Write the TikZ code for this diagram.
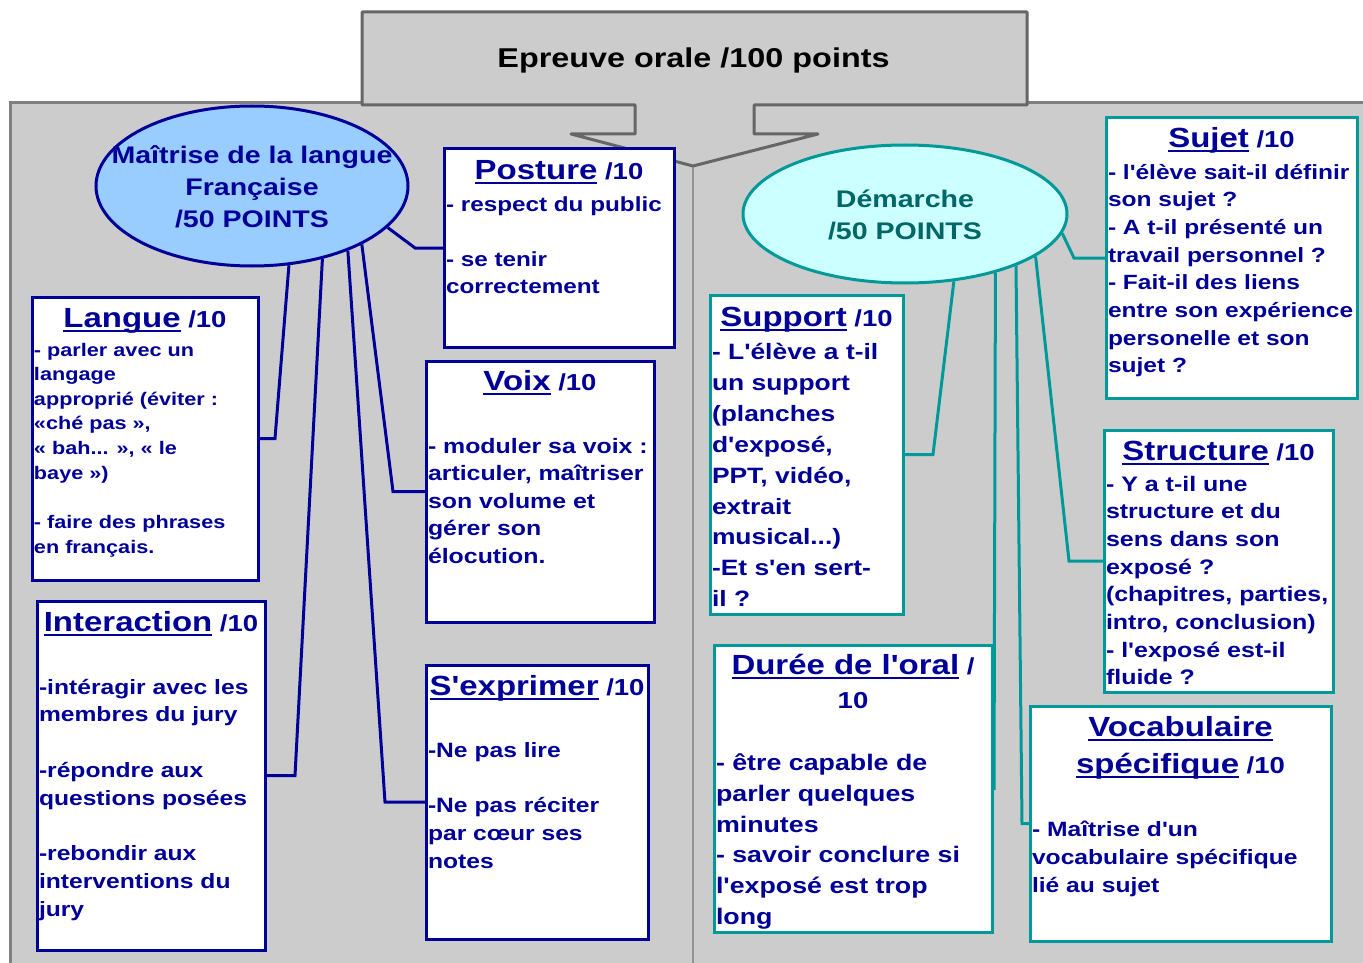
\documentclass[tikz,border=0pt]{standalone}
\usepackage{fontspec}
\setmainfont{Liberation Sans}[FakeStretch=1.19,Ligatures=TeXOff]
\usetikzlibrary{shapes.geometric}
\definecolor{navy}{HTML}{000099}
\definecolor{tealb}{HTML}{009999}
\definecolor{tealt}{HTML}{006666}
\definecolor{lblue}{HTML}{99CCFF}
\definecolor{lcyan}{HTML}{CCFFFF}
\definecolor{panel}{HTML}{CCCCCC}
\definecolor{panelb}{HTML}{808080}
\definecolor{titleb}{HTML}{666666}
\newsavebox\ulbox
\newcommand\ulw[1]{\sbox\ulbox{#1}\rlap{\rule[-4.3pt]{\wd\ulbox}{1.8pt}}\usebox\ulbox}
\newcommand\fsz[2]{\fontsize{#1}{#2}\selectfont}
\newcommand\tstrut{\rule{0pt}{30pt}}
\newcommand\boxtitle[2]{{\fsz{27.7}{33}\ulw{#1}}{\fsz{23.1}{28} #2}}
\tikzset{
  navybox/.style={rectangle, draw=navy, fill=white, line width=3pt, inner sep=0pt, outer sep=0pt},
  tealbox/.style={rectangle, draw=tealb, fill=white, line width=3pt, inner sep=0pt, outer sep=0pt},
  navyline/.style={draw=navy, line width=3pt, line join=miter},
  tealline/.style={draw=tealb, line width=3pt, line join=miter},
  body/.style 2 args={anchor=north west, align=left, inner sep=0pt, outer sep=0pt, text=navy, font=\bfseries\fsz{#1}{#2}},
  ttl/.style={anchor=base, inner sep=0pt, outer sep=0pt, text=navy, font=\bfseries},
  oval/.style={ellipse, line width=3pt, inner sep=0pt},
}
\begin{document}
\begin{tikzpicture}[x=1pt,y=-1pt]
\useasboundingbox (0,0) rectangle (1363,963);
% panels
\fill[panel] (10,103) rectangle (1363,963);
\draw[panelb, line width=3pt] (10,963) -- (10,103) -- (1363,103);
\draw[panelb!85, line width=2pt] (693,160) -- (693,963);
% title callout
\draw[titleb, fill=panel, line width=3pt, line join=round] (362,12) -- (1027,12) -- (1027,105) -- (754,105) -- (754,134) -- (818,134) -- (693,166) -- (571,134) -- (635,134) -- (635,105) -- (362,105) -- cycle;
\node[anchor=base, inner sep=0pt, font=\bfseries\fsz{27.2}{32}] (title) at (693.5,68) {Epreuve orale /100 points};

% ellipses
\node[oval, draw=navy, fill=lblue, minimum width=312pt, minimum height=160pt] (maitrise) at (252,186) {};
\node[anchor=north, align=center, inner sep=0pt, text=navy, font=\bfseries\fsz{24}{32}] (maitriset) at (252,133) {\tstrut Maîtrise de la langue\\Française\\/50 POINTS};
\node[oval, draw=tealb, fill=lcyan, minimum width=324pt, minimum height=138pt] (demarche) at (905,214) {};
\node[anchor=north, align=center, inner sep=0pt, text=tealt, font=\bfseries\fsz{24}{32}] (demarchet) at (905,177.5) {\tstrut Démarche\\/50 POINTS};

% left boxes
\node[navybox, minimum width=230pt, minimum height=198pt] (posture) at (559,248) {};
\node[ttl] (posturet) at (559,179.5) {\boxtitle{Posture}{/10}};
\node[body={20.4}{27.6}] (postureb) at (446,181) {\tstrut- respect du public\\ \\- se tenir\\correctement};

\node[navybox, minimum width=226pt, minimum height=283pt] (langue) at (145,438.5) {};
\node[ttl] (languet) at (145,327.5) {\boxtitle{Langue}{/10}};
\node[body={18.2}{24.65}] (langueb) at (34,326) {\tstrut- parler avec un\\langage\\approprié (éviter :\\«ché pas »,\\« bah... », « le\\baye »)\\ \\- faire des phrases\\en français.};

\node[navybox, minimum width=228pt, minimum height=261pt] (voix) at (540,491.5) {};
\node[ttl] (voixt) at (540,390.5) {\boxtitle{Voix}{/10}};
\node[body={20.9}{27.5}] (voixb) at (428,423) {\tstrut- moduler sa voix :\\articuler, maîtriser\\son volume et\\gérer son\\élocution.};

\node[navybox, minimum width=228pt, minimum height=349pt] (interaction) at (151,775.5) {};
\node[ttl] (interactiont) at (151,631.5) {\boxtitle{Interaction}{/10}};
\node[body={20.7}{27.75}] (interactionb) at (39,664) {\tstrut-intéragir avec les\\membres du jury\\ \\-répondre aux\\questions posées\\ \\-rebondir aux\\interventions du\\jury};

\node[navybox, minimum width=222pt, minimum height=274pt] (sexprimer) at (537,802) {};
\node[ttl] (sexprimert) at (537,695.5) {\boxtitle{S'exprimer}{/10}};
\node[body={20.7}{27.8}] (sexprimerb) at (428,727) {\tstrut-Ne pas lire\\ \\-Ne pas réciter\\par cœur ses\\notes};

% right boxes
\node[tealbox, minimum width=251pt, minimum height=280pt] (sujet) at (1231.5,258) {};
\node[ttl] (sujett) at (1231.5,147.5) {\boxtitle{Sujet}{/10}};
\node[body={20.6}{27.7}] (sujetb) at (1108,149) {\tstrut- l'élève sait-il définir\\son sujet ?\\- A t-il présenté un\\travail personnel ?\\- Fait-il des liens\\entre son expérience\\personelle et son\\sujet ?};

\node[tealbox, minimum width=193pt, minimum height=319pt] (support) at (806.5,454.5) {};
\node[ttl] (supportt) at (806.5,326.5) {\boxtitle{Support}{/10}};
\node[body={22.2}{30.9}] (supportb) at (712,329.5) {\tstrut- L'élève a t-il\\un support\\(planches\\d'exposé,\\PPT, vidéo,\\extrait\\musical...)\\-Et s'en sert-\\il ?};

\node[tealbox, minimum width=229pt, minimum height=262pt] (structure) at (1218.5,561) {};
\node[ttl] (structuret) at (1218.5,460.5) {\boxtitle{Structure}{/10}};
\node[body={21}{27.7}] (structureb) at (1106,461) {\tstrut- Y a t-il une\\structure et du\\sens dans son\\exposé ?\\(chapitres, parties,\\intro, conclusion)\\- l'exposé est-il\\fluide ?};

\node[tealbox, minimum width=278pt, minimum height=287pt] (duree) at (853,788.5) {};
\node[ttl] (dureet) at (853,674.5) {\boxtitle{Durée de l'oral}{/}};
\node[ttl, font=\bfseries\fsz{23.1}{28}] (dureet2) at (853,708) {10};
\node[body={22.5}{30.8}] (dureeb) at (716,740.5) {\tstrut- être capable de\\parler quelques\\minutes\\- savoir conclure si\\l'exposé est trop\\long};

\node[tealbox, minimum width=301pt, minimum height=235pt] (vocab) at (1180.5,823.5) {};
\node[ttl] (vocabt) at (1180.5,736.5) {{\fsz{27.7}{33}\ulw{Vocabulaire}}};
\node[ttl] (vocabt2) at (1180.5,773.5) {\boxtitle{spécifique}{/10}};
\node[body={20.7}{28}] (vocabb) at (1032,806) {\tstrut- Maîtrise d'un\\vocabulaire spécifique\\lié au sujet};

% connectors left
\draw[navyline] (maitrise.343) -- ([xshift=-29pt]posture.west) -- (posture.west);
\draw[navyline] (maitrise.295) -- ([xshift=17pt]langue.east) -- (langue.east);
\draw[navyline] (maitrise.314) -- ([xshift=30pt]interaction.east) -- (interaction.east);
\draw[navyline] (maitrise.326) -- ([xshift=-41pt]sexprimer.west) -- (sexprimer.west);
\draw[navyline] (maitrise.332) -- ([xshift=-33pt]voix.west) -- (voix.west);
% connectors right
\draw[tealline] (demarche.353) -- ([xshift=-32pt]sujet.west) -- (sujet.west);
\draw[tealline] (demarche.306) -- ([xshift=30pt]support.east) -- (support.east);
\draw[tealline] (demarche.327) -- ([xshift=2pt]duree.east) -- (duree.east);
\draw[tealline] (demarche.335) -- ([xshift=-8pt]vocab.west) -- (vocab.west);
\draw[tealline] (demarche.342) -- ([xshift=-35pt]structure.west) -- (structure.west);
\end{tikzpicture}
\end{document}
